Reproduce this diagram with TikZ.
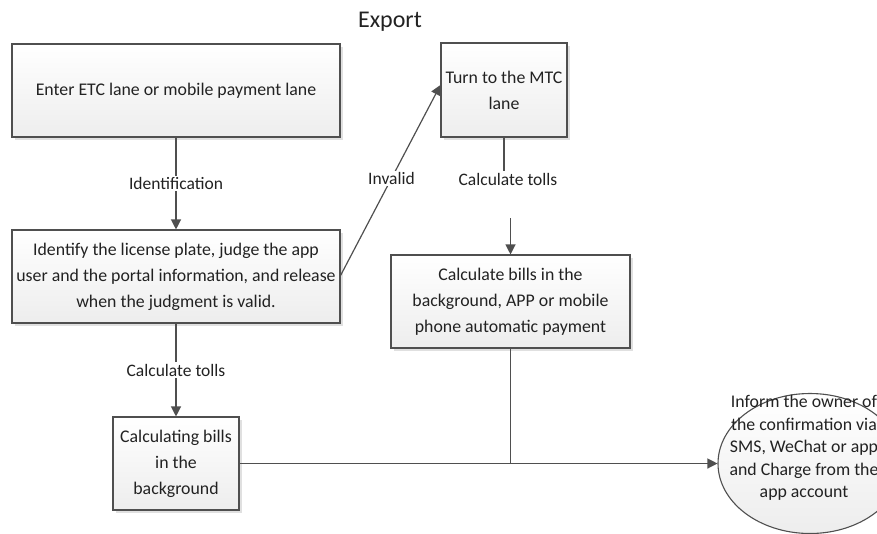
\documentclass[tikz,border=0pt]{standalone}
\usepackage{fontspec}
\setmainfont{Carlito}
\usetikzlibrary{arrows.meta,shapes.geometric,shadows}
\definecolor{edge}{HTML}{4F4F4F}
\definecolor{ink}{HTML}{222222}
\tikzset{
  x=1pt,y=-1pt,
  box/.style={draw=edge,line width=1.1pt,top color=white,bottom color=gray!14,
    drop shadow={shadow xshift=2.5pt,shadow yshift=-2.5pt,fill=gray!40,opacity=0.6},
    align=center,inner sep=2pt,text=ink,font=\fontsize{17.8}{26}\selectfont},
  lbl/.style={fill=white,inner sep=1.5pt,text=ink,font=\fontsize{17.5}{20}\selectfont},
  conn/.style={draw=edge,line width=1.2pt},
  arr/.style={conn,-{Triangle[length=10pt,width=10pt]}},
}
\begin{document}
\begin{tikzpicture}
\useasboundingbox (0,0) rectangle (877,533);
\clip (0,0) rectangle (877,533);
\node[text=ink,font=\fontsize{24}{28}\selectfont] (title) at (390,22) {Export};
\node[box,minimum width=328,minimum height=93] (b1) at (176,90.5) {Enter ETC lane or mobile payment lane};
\node[box,minimum width=328,minimum height=93] (b2) at (176,276.5) {Identify the license plate, judge the app\\user and the portal information, and release\\when the judgment is valid.};
\node[box,minimum width=126,minimum height=93] (b3) at (176,463.5) {Calculating bills\\in the\\background};
\node[box,minimum width=126,minimum height=94] (mtc) at (504,90) {Turn to the MTC\\lane};
\node[box,minimum width=239,minimum height=93] (c2) at (510.5,301.5) {Calculate bills in the\\background, APP or mobile\\phone automatic payment};
\node[ellipse,draw=edge,line width=1.1pt,top color=white,bottom color=gray!14,minimum width=184,minimum height=140,inner sep=0] (ell) at (810,463.5) {};
\node[align=center,text=ink,font=\fontsize{17.8}{22.5}\selectfont] (elltext) at (804,448) {Inform the owner of\\the confirmation via\\SMS, WeChat or app\\and Charge from the\\app account};
% connectors
\draw[arr] (b1) -- node[lbl] (l1) {Identification} (b2);
\draw[arr] (b2) -- node[lbl] (l2) {Calculate tolls} (b3);
\draw[arr] ([yshift=1pt]b2.east) -- node[lbl,pos=0.51] (l3) {Invalid} ([yshift=5pt]mtc.west);
\node[lbl] (l4) at (508,179) {Calculate tolls};
\draw[conn] (mtc.south) -- (mtc.south |- l4.north);
\coordinate (a4) at (c2.north |- 0,218);
\draw[arr] (a4) -- (c2.north);
\draw[arr] (b3.east) -- (ell.west);
\draw[conn] (c2.south) -- (c2.south |- b3.east);
\end{tikzpicture}
\end{document}
